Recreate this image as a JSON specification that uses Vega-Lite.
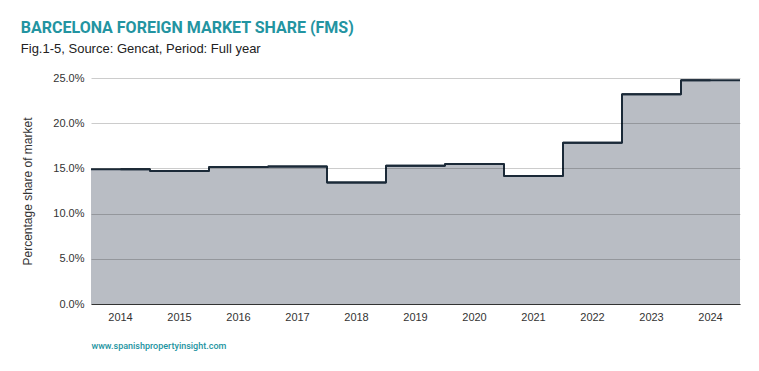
{
  "$schema": "https://vega.github.io/schema/vega-lite/v6.json",
  "width": 649,
  "height": 226,
  "autosize": "none",
  "padding": {"left": 91, "top": 78, "right": 19, "bottom": 67},
  "background": "white",
  "title": {
    "text": "BARCELONA FOREIGN MARKET SHARE (FMS)",
    "subtitle": "Fig.1-5, Source: Gencat, Period: Full year",
    "anchor": "start",
    "dx": -1,
    "offset": 16,
    "font": "Roboto",
    "fontSize": 16,
    "fontWeight": "bold",
    "color": "#2394a1",
    "subtitleFont": "Liberation Sans",
    "subtitleFontSize": 13,
    "subtitleColor": "#222222",
    "subtitlePadding": 7
  },
  "data": {
    "values": [
      {"year": "2014", "share": 14.9},
      {"year": "2015", "share": 14.7},
      {"year": "2016", "share": 15.15},
      {"year": "2017", "share": 15.2},
      {"year": "2018", "share": 13.45},
      {"year": "2019", "share": 15.3},
      {"year": "2020", "share": 15.5},
      {"year": "2021", "share": 14.15},
      {"year": "2022", "share": 17.85},
      {"year": "2023", "share": 23.2},
      {"year": "2024", "share": 24.75}
    ]
  },
  "encoding": {
    "x": {
      "field": "year",
      "type": "ordinal",
      "scale": {"paddingInner": 0, "paddingOuter": 0},
      "axis": {
        "title": "www.spanishpropertyinsight.com",
        "titleFont": "Roboto",
        "titleFontSize": 9,
        "titleFontWeight": 500,
        "titleColor": "#2394a1",
        "titleAnchor": "start",
        "titleAlign": "left",
        "titlePadding": 19,
        "labelAngle": 0,
        "labelFont": "Liberation Sans",
        "labelFontSize": 11,
        "labelColor": "#333333",
        "labelPadding": 7,
        "ticks": false,
        "domainColor": "#333333",
        "domainWidth": 1,
        "grid": false,
        "zindex": 2
      }
    },
    "y": {
      "field": "share",
      "type": "quantitative",
      "scale": {"domain": [0, 25], "nice": false},
      "axis": {
        "title": "Percentage share of market",
        "titleFont": "Liberation Sans",
        "titleFontSize": 12,
        "titleFontWeight": "normal",
        "titleColor": "#333333",
        "titlePadding": 18,
        "values": [0, 5, 10, 15, 20, 25],
        "labelExpr": "format(datum.value, '.1f') + '%'",
        "labelFont": "Liberation Sans",
        "labelFontSize": 11,
        "labelColor": "#333333",
        "labelPadding": 7,
        "ticks": false,
        "domain": false,
        "grid": true,
        "gridColor": "#000000",
        "gridOpacity": 0.2,
        "zindex": 1
      }
    }
  },
  "layer": [
    {"mark": {"type": "bar", "color": "#b9bdc4", "stroke": null}},
    {"mark": {"type": "line", "interpolate": "step", "color": "#1b2a38", "strokeWidth": 2, "strokeJoin": "round"}},
    {
      "mark": {"type": "rule", "color": "#1b2a38", "strokeWidth": 2},
      "encoding": {
        "x": {"field": "year", "type": "ordinal", "bandPosition": 0},
        "x2": {"field": "year", "bandPosition": 1}
      }
    }
  ],
  "config": {"view": {"stroke": null}}
}
